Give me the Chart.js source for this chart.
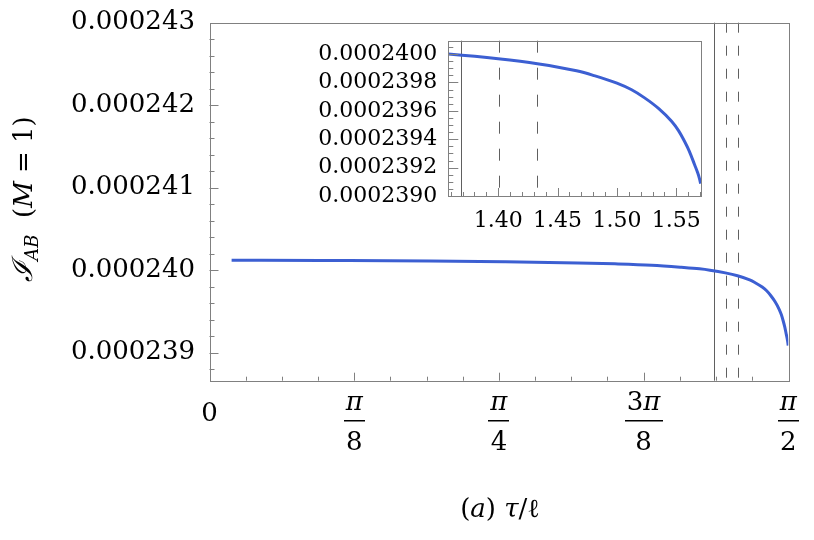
<!DOCTYPE html>
<html>
<head>
<meta charset="utf-8">
<script src="https://cdn.jsdelivr.net/npm/chart.js@4.4.0/dist/chart.umd.min.js"></script>
<style>
  body { margin: 0; background: #fff; }
  #wrap { position: relative; width: 814px; height: 540px; }
  #mainChart { position: absolute; left: 0; top: 0; }
  #insetChart { position: absolute; left: 300px; top: 30px; }
</style>
</head>
<body>
<div id="wrap">
  <canvas id="mainChart" width="814" height="540"></canvas>
  <canvas id="insetChart" width="420" height="210"></canvas>
</div>
<script>
// Data: tau/l and I_AB (M = 1)
const tau = [0.06, 0.3, 0.6, 0.8, 1.0, 1.1, 1.2, 1.28, 1.33, 1.358, 1.40, 1.433, 1.466, 1.48, 1.50, 1.512, 1.523, 1.535, 1.546, 1.552,
             1.557, 1.561, 1.5655, 1.568, 1.5695, 1.5705];
const info = [2.40120e-4, 2.40117e-4, 2.40112e-4, 2.40102e-4, 2.40088e-4, 2.40077e-4, 2.40060e-4, 2.40035e-4, 2.40016e-4, 2.40000e-4,
              2.39967e-4, 2.39932e-4, 2.39882e-4, 2.39850e-4, 2.39795e-4, 2.39750e-4, 2.39693e-4, 2.39617e-4, 2.39526e-4, 2.39459e-4,
              2.39384e-4, 2.39315e-4, 2.39218e-4, 2.39163e-4, 2.39123e-4, 2.39087e-4];

// Vertical marker lines
const solidTau = 1.3687;
const dashTau = [1.401, 1.433];

// Main axes ticks
const mainXTicks = [0, Math.PI / 8, Math.PI / 4, 3 * Math.PI / 8, Math.PI / 2];
const mainXLabels = ['0', 'π/8', 'π/4', '3π/8', 'π/2'];
const mainYTicks = [0.000239, 0.000240, 0.000241, 0.000242, 0.000243];
const mainYLabels = ['0.000239', '0.000240', '0.000241', '0.000242', '0.000243'];

// Inset ticks
const insetXTicks = [1.40, 1.45, 1.50, 1.55];
const insetXLabels = ['1.40', '1.45', '1.50', '1.55'];
const insetYTicks = [0.0002390, 0.0002392, 0.0002394, 0.0002396, 0.0002398, 0.0002400];
const insetYLabels = ['0.0002390', '0.0002392', '0.0002394', '0.0002396', '0.0002398', '0.0002400'];

const SERIF = '"DejaVu Serif", serif';
const CURVE = 'rgb(60, 95, 210)';
const FRAME = '#808080';
const MARK = '#606060';

function crisp(v) {
    return Math.round(v) + 0.5;
}

function line(ctx, x0, y0, x1, y1) {
    ctx.beginPath();
    ctx.moveTo(x0, y0);
    ctx.lineTo(x1, y1);
    ctx.stroke();
}

function markerLines(ctx, a, x, dash) {
    ctx.save();
    ctx.lineWidth = 1;
    ctx.strokeStyle = MARK;
    const xs = crisp(x.getPixelForValue(solidTau));
    line(ctx, xs, a.top, xs, a.bottom);
    ctx.setLineDash(dash);
    dashTau.forEach(t => {
        const xd = crisp(x.getPixelForValue(t));
        line(ctx, xd, a.top, xd, a.bottom);
    });
    ctx.restore();
}

// Draw text pieces with mixed fonts, centred on cx, sitting on baseline by
function drawRuns(ctx, runs, cx, by) {
    let total = 0;
    runs.forEach(r => {
        ctx.font = r.font;
        r.w = ctx.measureText(r.text).width;
        total += r.w;
    });
    let x = cx - total / 2;
    ctx.textAlign = 'left';
    ctx.textBaseline = 'alphabetic';
    runs.forEach(r => {
        ctx.font = r.font;
        ctx.fillText(r.text, x, by + (r.dy || 0));
        x += r.w;
    });
    return total;
}

function mathRuns(str, size) {
    return [...str].map(ch => ({
        text: ch,
        font: (/[πτaM]/.test(ch) ? 'italic ' : '') + size + 'px ' + SERIF
    }));
}

function baseOptions(xMin, xMax, yMin, yMax, padding) {
    return {
        responsive: false,
        animation: false,
        devicePixelRatio: 1,
        layout: { padding },
        plugins: { legend: { display: false }, tooltip: { enabled: false } },
        scales: {
            x: { type: 'linear', min: xMin, max: xMax, display: false },
            y: { type: 'linear', min: yMin, max: yMax, display: false }
        }
    };
}

function curveDataset() {
    return {
        data: tau.map((t, i) => ({ x: t, y: info[i] })),
        borderColor: CURVE,
        borderWidth: 3,
        pointRadius: 0,
        fill: false,
        cubicInterpolationMode: 'monotone'
    };
}

// Main chart decorations: frame, inward ticks, labels, titles
const mainDecor = {
    id: 'mainDecor',
    beforeDatasetsDraw(chart) {
        const { ctx, chartArea: a, scales: { x } } = chart;
        markerLines(ctx, a, x, [10, 13]);
    },
    afterDraw(chart) {
        const { ctx, chartArea: a, scales: { x, y } } = chart;
        ctx.save();
        ctx.strokeStyle = FRAME;
        ctx.lineWidth = 1;
        ctx.strokeRect(crisp(a.left), crisp(a.top), Math.round(a.right - a.left), Math.round(a.bottom - a.top));

        // x ticks every pi/32, major every pi/8
        for (let k = 1; k < 16; k++) {
            const px = crisp(x.getPixelForValue(k * Math.PI / 32));
            const len = k % 4 === 0 ? 8 : 4;
            line(ctx, px, a.bottom, px, a.bottom - len);
        }
        // y ticks every 2e-7, major every 1e-6
        for (let k = -1; k < 20; k++) {
            const py = crisp(y.getPixelForValue(0.000239 + k * 2e-7));
            const len = k % 5 === 0 ? 9 : 5;
            line(ctx, a.left, py, a.left + len, py);
        }

        ctx.fillStyle = '#000';
        ctx.font = '26px ' + SERIF;
        ctx.textAlign = 'right';
        ctx.textBaseline = 'middle';
        mainYTicks.forEach((v, i) => {
            ctx.fillText(mainYLabels[i], 195, y.getPixelForValue(v));
        });

        mainXTicks.forEach((v, i) => {
            const cx = x.getPixelForValue(v);
            const parts = mainXLabels[i].split('/');
            if (parts.length === 1) {
                ctx.font = '26px ' + SERIF;
                ctx.textAlign = 'center';
                ctx.textBaseline = 'middle';
                ctx.fillText(parts[0], cx, 414);
                return;
            }
            const wn = drawRuns(ctx, mathRuns(parts[0], 26), cx, 410);
            const wd = drawRuns(ctx, mathRuns(parts[1], 26), cx, 450);
            const bw = Math.max(wn, wd) + 4;
            ctx.fillRect(Math.round(cx - bw / 2), 420, Math.round(bw), 1.5);
        });

        // x title
        drawRuns(ctx, [
            { text: '(', font: '26px ' + SERIF },
            { text: 'a', font: 'italic 26px ' + SERIF },
            { text: ') ', font: '26px ' + SERIF },
            { text: 'τ', font: 'italic 26px ' + SERIF },
            { text: '/', font: '26px ' + SERIF },
            { text: 'ℓ', font: '26px ' + SERIF }
        ], 500, 517);

        // y title, rotated
        ctx.save();
        ctx.translate(32, 199);
        ctx.rotate(-Math.PI / 2);
        drawRuns(ctx, [
            { text: 'ℐ', font: 'italic 28px ' + SERIF },
            { text: 'AB', font: 'italic 18px ' + SERIF, dy: 6 },
            { text: '  (', font: '26px ' + SERIF },
            { text: 'M', font: 'italic 26px ' + SERIF },
            { text: ' = 1)', font: '26px ' + SERIF }
        ], 0, 0);
        ctx.restore();
        ctx.restore();
    }
};

// Inset decorations
const insetDecor = {
    id: 'insetDecor',
    beforeDatasetsDraw(chart) {
        const { ctx, chartArea: a, scales: { x } } = chart;
        markerLines(ctx, a, x, [12, 15]);
    },
    afterDraw(chart) {
        const { ctx, chartArea: a, scales: { x, y } } = chart;
        ctx.save();
        ctx.strokeStyle = FRAME;
        ctx.lineWidth = 1;
        ctx.strokeRect(crisp(a.left), crisp(a.top), Math.round(a.right - a.left), Math.round(a.bottom - a.top));

        for (let k = 136; k <= 157; k++) {
            const px = crisp(x.getPixelForValue(k / 100));
            const len = k % 5 === 0 ? 8 : 4;
            line(ctx, px, a.bottom, px, a.bottom - len);
        }
        for (let k = 1; k <= 21; k++) {
            const py = crisp(y.getPixelForValue(0.000239 + k * 5e-8));
            const len = k % 4 === 0 ? 10 : 5;
            line(ctx, a.left, py, a.left + len, py);
        }

        ctx.fillStyle = '#000';
        ctx.font = '22px ' + SERIF;
        ctx.textAlign = 'right';
        ctx.textBaseline = 'middle';
        insetYTicks.forEach((v, i) => {
            ctx.fillText(insetYLabels[i], a.left - 11, y.getPixelForValue(v));
        });
        ctx.textAlign = 'center';
        insetXTicks.forEach((v, i) => {
            ctx.fillText(insetXLabels[i], x.getPixelForValue(v), a.bottom + 25);
        });
        ctx.restore();
    }
};

new Chart(document.getElementById('mainChart'), {
    type: 'line',
    data: { datasets: [curveDataset()] },
    options: baseOptions(0, Math.PI / 2, 0.00023866, 0.000243,
        { left: 209.5, top: 22.7, right: 25.7, bottom: 159.3 }),
    plugins: [mainDecor]
});

new Chart(document.getElementById('insetChart'), {
    type: 'line',
    data: { datasets: [curveDataset()] },
    options: baseOptions(1.358, Math.PI / 2, 0.000239, 0.000240094,
        { left: 148.3, top: 10.7, right: 19, bottom: 44 }),
    plugins: [insetDecor]
});
</script>
</body>
</html>
